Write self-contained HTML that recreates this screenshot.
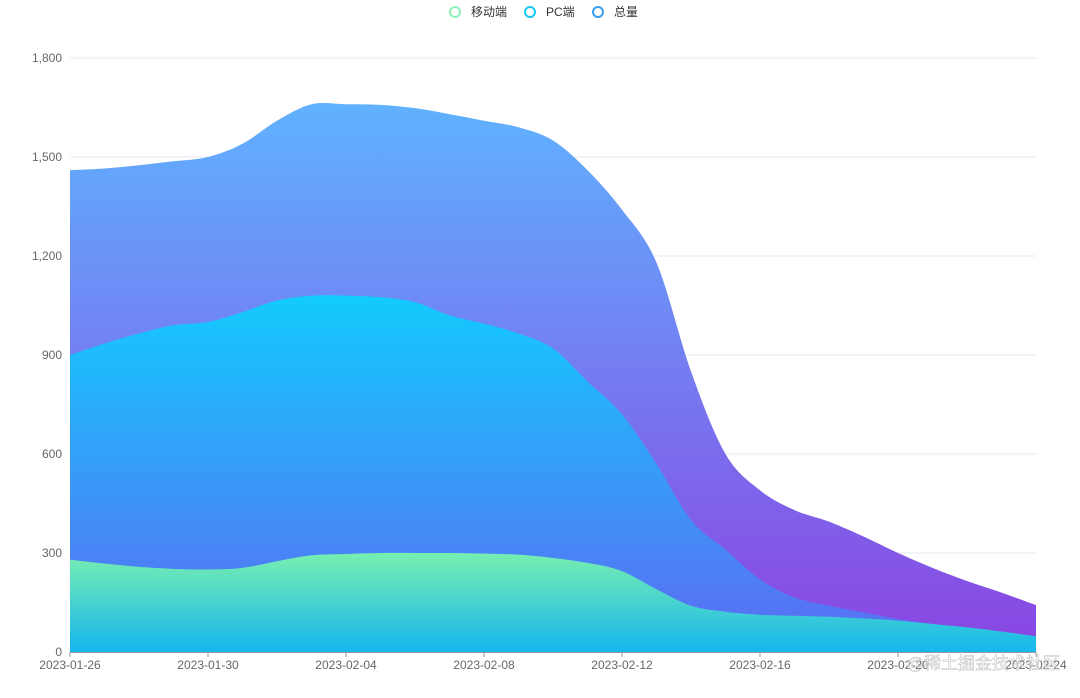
<!DOCTYPE html>
<html><head><meta charset="utf-8">
<style>
html,body{margin:0;padding:0;background:#fff;}
body{width:1080px;height:693px;overflow:hidden;font-family:"Liberation Sans","Noto Sans CJK SC",sans-serif;}
svg text{font-family:"Liberation Sans","Noto Sans CJK SC",sans-serif;}
</style></head>
<body>
<svg id="chart" width="1080" height="693" viewBox="0 0 1080 693" xmlns="http://www.w3.org/2000/svg">
<defs>
<linearGradient id="gTotal" x1="0" y1="0" x2="0" y2="1"><stop offset="0" stop-color="#5fb2ff"/><stop offset="1" stop-color="#8b44e2"/></linearGradient>
<linearGradient id="gPC" x1="0" y1="0" x2="0" y2="1"><stop offset="0" stop-color="#12cbfd"/><stop offset="1" stop-color="#5d6af3"/></linearGradient>
<linearGradient id="gMob" x1="0" y1="0" x2="0" y2="1"><stop offset="0" stop-color="#78efb0"/><stop offset="1" stop-color="#16b6ee"/></linearGradient>
</defs>
<g id="grid"></g>
<g id="areas"></g>
<g id="axes"></g>
<g id="legend">
 <g><circle cx="455" cy="12" r="5" fill="#fff" stroke="#8ef0b8" stroke-width="2"/><text x="471" y="16" font-size="12" fill="#333">移动端</text></g>
 <g><circle cx="530" cy="12" r="5" fill="#fff" stroke="#18c8f0" stroke-width="2"/><text x="546" y="16" font-size="12" fill="#333">PC端</text></g>
 <g><circle cx="598" cy="12" r="5" fill="#fff" stroke="#3b9ef0" stroke-width="2"/><text x="614" y="16" font-size="12" fill="#333">总量</text></g>
</g>
<text x="1060" y="669" text-anchor="end" font-size="17" fill="#fff" fill-opacity="0.6" stroke="#bbb" stroke-width="0.5">@稀土掘金技术社区</text>
</svg>
<script>
const categories=["2023-01-26","2023-01-27","2023-01-28","2023-01-29","2023-01-30","2023-01-31","2023-02-02","2023-02-03","2023-02-04","2023-02-05","2023-02-06","2023-02-07","2023-02-08","2023-02-09","2023-02-10","2023-02-11","2023-02-12","2023-02-13","2023-02-14","2023-02-15","2023-02-16","2023-02-17","2023-02-18","2023-02-19","2023-02-20","2023-02-21","2023-02-22","2023-02-23","2023-02-24"];
const totalValues=[1460,1465,1475,1487,1500,1540,1610,1660,1660,1658,1648,1630,1610,1590,1550,1460,1340,1180,850,600,490,430,395,350,300,255,215,180,142];
const pcValues=[900,935,965,990,1000,1030,1065,1080,1080,1075,1060,1020,995,965,920,820,720,570,400,310,220,165,140,120,100,85,70,55,40];
const mobileValues=[280,268,258,252,250,255,275,293,297,300,300,300,298,295,285,270,245,190,140,122,113,110,107,102,95,85,75,62,48];
const yTicks=[0,300,600,900,1200,1500,1800];
const yTickLabels=["0","300","600","900","1,200","1,500","1,800"];

const X0=70,X1=1036,Y0=652,Y1=58,YMAX=1800;
const xs=i=>X0+(X1-X0)*i/(categories.length-1);
const ys=v=>Y0-(Y0-Y1)*v/YMAX;
const NS="http://www.w3.org/2000/svg";
function mk(tag,attrs,parent){const e=document.createElementNS(NS,tag);for(const k in attrs)e.setAttribute(k,attrs[k]);parent.appendChild(e);return e;}

const grid=document.getElementById('grid'),axes=document.getElementById('axes'),areas=document.getElementById('areas');
yTicks.forEach((t,i)=>{
  const l=mk('line',{x1:X0,x2:X1,y1:ys(t),y2:ys(t),stroke:'#e6e8f2','stroke-width':1},grid);
  
  
  const tx=mk('text',{x:62,y:ys(t)+4,'text-anchor':'end','font-size':12,fill:'#666'},axes);
  tx.textContent=yTickLabels[i];
  
  
});
const ax=mk('line',{x1:X0,x2:X1,y1:Y0+0.5,y2:Y0+0.5,stroke:'#999','stroke-width':1},axes);


categories.forEach((c,i)=>{
  if(i%4!==0)return;
  const tk=mk('line',{x1:xs(i),x2:xs(i),y1:Y0,y2:Y0+5,stroke:'#999'},axes);
  
  
  const tx=mk('text',{x:xs(i),y:Y0+17,'text-anchor':'middle','font-size':12,fill:'#666'},axes);
  tx.textContent=c;
  
  
});

function smoothPath(vals){
  const p=vals.map((v,i)=>[xs(i),ys(v)]);
  let d=`M${p[0][0]},${p[0][1]}`;
  const s=0.25;
  for(let i=0;i<p.length-1;i++){
    const p0=p[Math.max(0,i-1)],p1=p[i],p2=p[i+1],p3=p[Math.min(p.length-1,i+2)];
    const c1=[p1[0]+(p2[0]-p0[0])*s/1.5,p1[1]+(p2[1]-p0[1])*s/1.5];
    const c2=[p2[0]-(p3[0]-p1[0])*s/1.5,p2[1]-(p3[1]-p1[1])*s/1.5];
    d+=` C${c1[0]},${c1[1]} ${c2[0]},${c2[1]} ${p2[0]},${p2[1]}`;
  }
  d+=` L${X1},${Y0} L${X0},${Y0} Z`;
  return d;
}
[[totalValues,'url(#gTotal)','area-total'],[pcValues,'url(#gPC)','area-pc'],[mobileValues,'url(#gMob)','area-mobile']].forEach(([vals,fill,name])=>{
  const el=mk('path',{d:smoothPath(vals),fill:fill},areas);
  
  
});
</script>
</body></html>
